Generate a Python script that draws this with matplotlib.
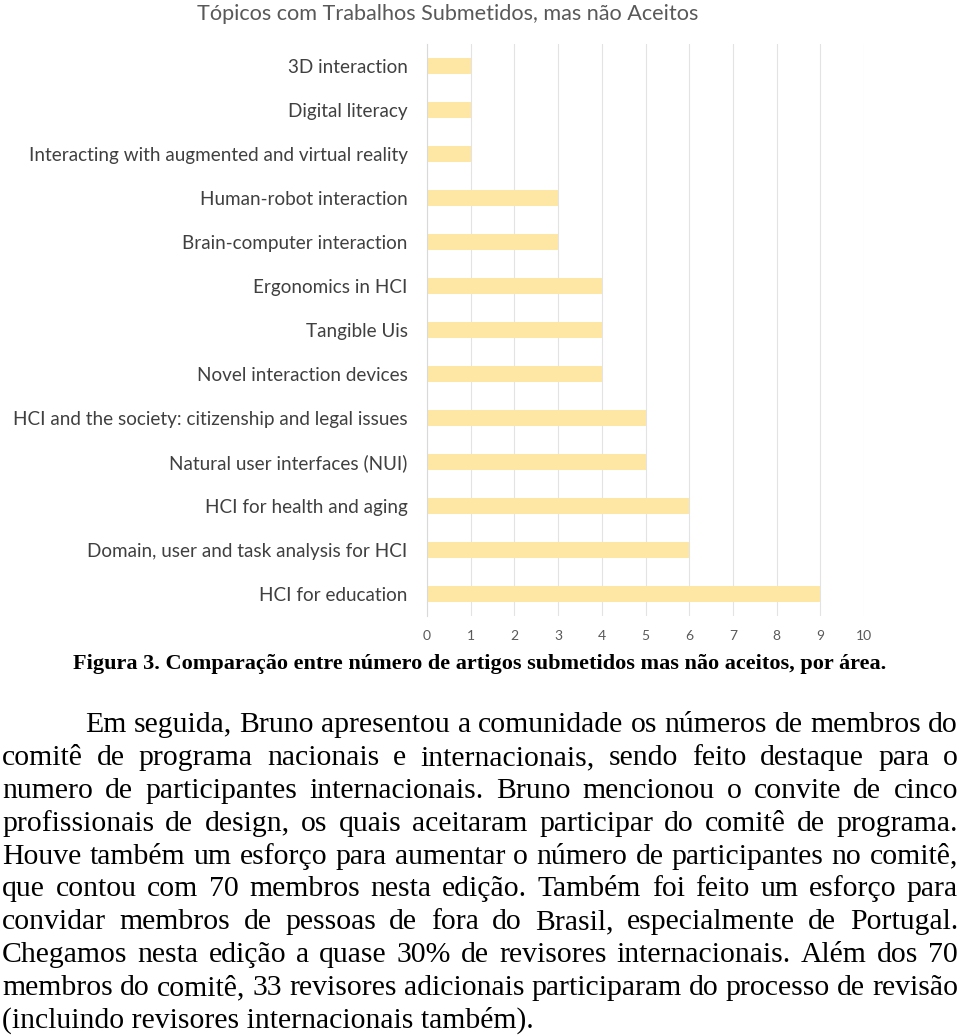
import matplotlib
matplotlib.use('Agg')
import matplotlib.pyplot as plt

# dados do grafico (de cima para baixo)
topicos = ['3D interaction',
           'Digital literacy',
           'Interacting with augmented and virtual reality',
           'Human-robot interaction',
           'Brain-computer interaction',
           'Ergonomics in HCI',
           'Tangible Uis',
           'Novel interaction devices',
           'HCI and the society: citizenship and legal issues',
           'Natural user interfaces (NUI)',
           'HCI for health and aging',
           'Domain, user and task analysis for HCI',
           'HCI for education']
valores = [1, 1, 1, 3, 3, 4, 4, 4, 5, 5, 6, 6, 9]
xticks = list(range(0, 11))

titulo = 'Tópicos com Trabalhos Submetidos, mas não Aceitos'
legenda = 'Figura 3. Comparação entre número de artigos submetidos mas não aceitos, por área.'
paragrafo = [
    'Em seguida, Bruno apresentou a comunidade os números de membros do',
    'comitê de programa nacionais e internacionais, sendo feito destaque para o',
    'numero de participantes internacionais. Bruno mencionou o convite de cinco',
    'profissionais de design, os quais aceitaram participar do comitê de programa.',
    'Houve também um esforço para aumentar o número de participantes no comitê,',
    'que contou com 70 membros nesta edição. Também foi feito um esforço para',
    'convidar membros de pessoas de fora do Brasil, especialmente de Portugal.',
    'Chegamos nesta edição a quase 30% de revisores internacionais. Além dos 70',
    'membros do comitê, 33 revisores adicionais participaram do processo de revisão',
    '(incluindo revisores internacionais também).',
]

W, H = 960, 1036
fig = plt.figure(figsize=(W / 100, H / 100), dpi=100)
r = fig.canvas.get_renderer()

fonte_graf = 'Lato'
fonte_texto = 'Liberation Serif'
fonte_legenda = 'Liberation Serif'


def largura(txt, family, size=10, weight='normal'):
    t = fig.text(0, 0, txt, fontsize=size, family=family, weight=weight)
    w = t.get_window_extent(r).width
    t.remove()
    return w


def ajusta(txt, family, alvo, weight='normal'):
    return 10 * alvo / largura(txt, family, 10, weight)


def fy(y):
    return 1 - y / H


# eixo do grafico
ax = fig.add_axes([427 / W, 1 - 616 / H, 437 / W, 572 / H])
ypos = list(range(len(topicos)))
ax.barh(ypos, valores, height=0.35, color='#FEE7A4', zorder=2)
ax.set_ylim(len(topicos) - 0.5, -0.5)
ax.set_xlim(0, 10)
ax.set_xticks(xticks)
ax.set_yticks(ypos)

tam_rot = ajusta('Interacting with augmented and virtual reality', fonte_graf, 378)
ax.set_yticklabels(topicos, fontsize=tam_rot, family=fonte_graf, color='#404040')
ax.set_xticklabels([str(v) for v in xticks], fontsize=10, family=fonte_graf, color='#595959')
ax.tick_params(axis='y', length=0, pad=14)
ax.tick_params(axis='x', length=0, pad=10)
ax.grid(axis='x', color='#E3E3E3', lw=0.8, zorder=0)
for s in ['top', 'right', 'bottom']:
    ax.spines[s].set_visible(False)
ax.spines['left'].set_color('#D9D9D9')
ax.spines['left'].set_linewidth(0.8)

tam_tit = ajusta(titulo, fonte_graf, 503)
fig.text(448 / W, fy(14), titulo, fontsize=tam_tit, family=fonte_graf,
         color='#595959', ha='center', va='center')

# legenda da figura
tam_leg = ajusta(legenda, fonte_legenda, 816, 'bold')
fig.text(480 / W, fy(669), legenda, fontsize=tam_leg, family=fonte_legenda,
         weight='bold', color='#000000', ha='center', va='baseline')

# paragrafo justificado
esq, dir_ = 2, 958
tam_par = ajusta(paragrafo[8], fonte_texto, dir_ - esq)
for i, linha in enumerate(paragrafo):
    yb = fy(732 + 32.9 * i)
    x0 = 85 if i == 0 else esq
    if i == len(paragrafo) - 1:
        fig.text(x0 / W, yb, linha, fontsize=tam_par, family=fonte_texto,
                 color='#000000', va='baseline')
        continue
    palavras = linha.split(' ')
    ws = [largura(p, fonte_texto, tam_par) for p in palavras]
    gap = (dir_ - x0 - sum(ws)) / (len(palavras) - 1)
    x = x0
    for p, w in zip(palavras, ws):
        fig.text(x / W, yb, p, fontsize=tam_par, family=fonte_texto,
                 color='#000000', va='baseline')
        x += w + gap

fig.savefig('out.png', dpi=100)
